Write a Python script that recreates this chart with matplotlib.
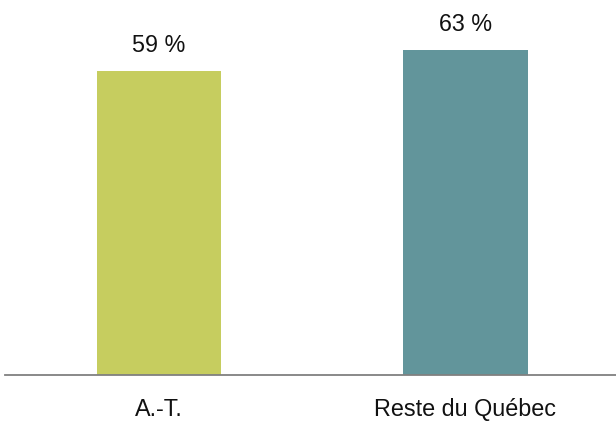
import matplotlib
matplotlib.use("Agg")
import matplotlib.pyplot as plt

categories = ["A.-T.", "Reste du Québec"]
values = [59, 63]
labels = ["59 %", "63 %"]
colors = ["#C6CD5F", "#62959B"]

plt.rcParams['font.family'] = ['Liberation Sans', 'DejaVu Sans']

fig = plt.figure(figsize=(6.16, 4.21), dpi=100)
ax = fig.add_axes([5/616, 46/421, 611/616, 375/421])

x = list(range(len(categories)))
bars = ax.bar(x, values, width=0.405, color=colors, zorder=2)
ax.set_xlim(-0.502, 1.491)
ax.set_ylim(0, 72.8)

for b, lab in zip(bars, labels):
    ax.annotate(lab, (b.get_x() + b.get_width()/2, b.get_height()),
                xytext=(0, 13.7), textcoords='offset points',
                ha='center', va='baseline', fontsize=16.8, color='#111111')

ax.set_xticks(x)
ax.set_xticklabels(categories, fontsize=16.8, color='#111111')
ax.tick_params(axis='x', length=0, pad=16.5)
ax.set_yticks([])
for s in ['top', 'right', 'left']:
    ax.spines[s].set_visible(False)
ax.spines['bottom'].set_color('#808080')
ax.spines['bottom'].set_linewidth(1.3)
ax.spines['bottom'].set_zorder(3)

fig.savefig("out.png", dpi=100)
